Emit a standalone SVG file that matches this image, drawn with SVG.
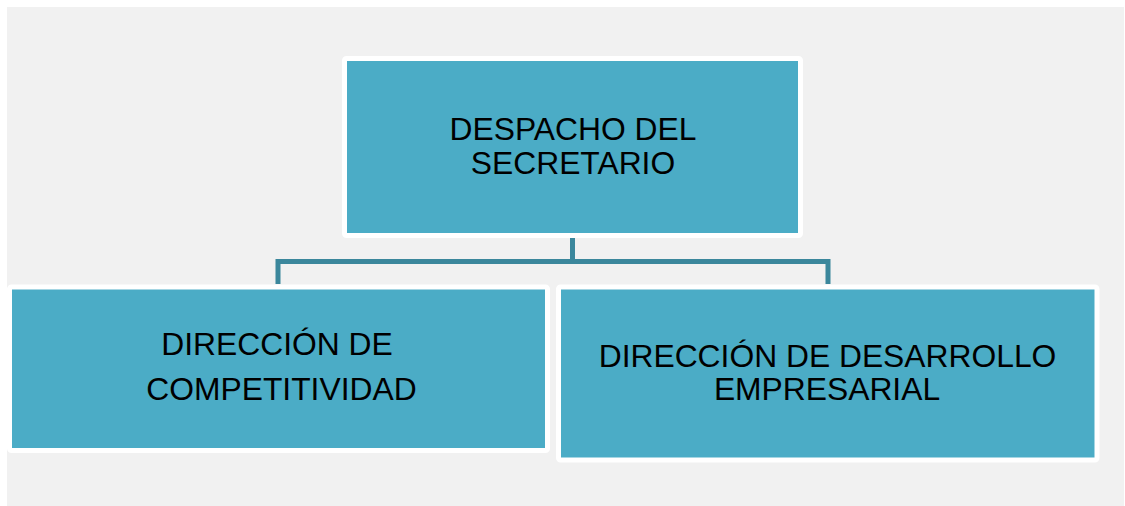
<svg xmlns="http://www.w3.org/2000/svg" width="1125" height="506" viewBox="0 0 1125 506">
  <style>
    .box { fill: #4bacc6; stroke: #ffffff; stroke-width: 5; }
    .lbl { font-family: "Liberation Sans", Arial, sans-serif; font-size: 31.8px; fill: #000000; text-anchor: middle; }
    .conn { fill: none; stroke: #3b879c; stroke-width: 5; stroke-linejoin: miter; }
  </style>
  <rect x="0" y="0" width="1125" height="506" fill="#ffffff"/>
  <rect x="7" y="7" width="1117" height="499" fill="#f1f1f1"/>
  <g id="connectors">
    <line class="conn" x1="572.5" y1="238" x2="572.5" y2="261.5"/>
    <path class="conn" d="M278 284 V261.5 H828 V284"/>
  </g>
  <g id="node-despacho">
    <rect class="box" x="344.5" y="58.5" width="456" height="177" rx="2"/>
    <text class="lbl" x="573" y="140">DESPACHO DEL</text>
    <text class="lbl" x="573" y="174">SECRETARIO</text>
  </g>
  <g id="node-competitividad">
    <rect class="box" x="9.5" y="287" width="538" height="163.5" rx="2"/>
    <text class="lbl" x="277" y="355">DIRECCIÓN DE</text>
    <text class="lbl" x="281.5" y="400">COMPETITIVIDAD</text>
  </g>
  <g id="node-desarrollo">
    <rect class="box" x="558.5" y="287" width="538.5" height="173" rx="2"/>
    <text class="lbl" x="827.5" y="366.5">DIRECCIÓN DE DESARROLLO</text>
    <text class="lbl" x="827" y="400">EMPRESARIAL</text>
  </g>
</svg>
